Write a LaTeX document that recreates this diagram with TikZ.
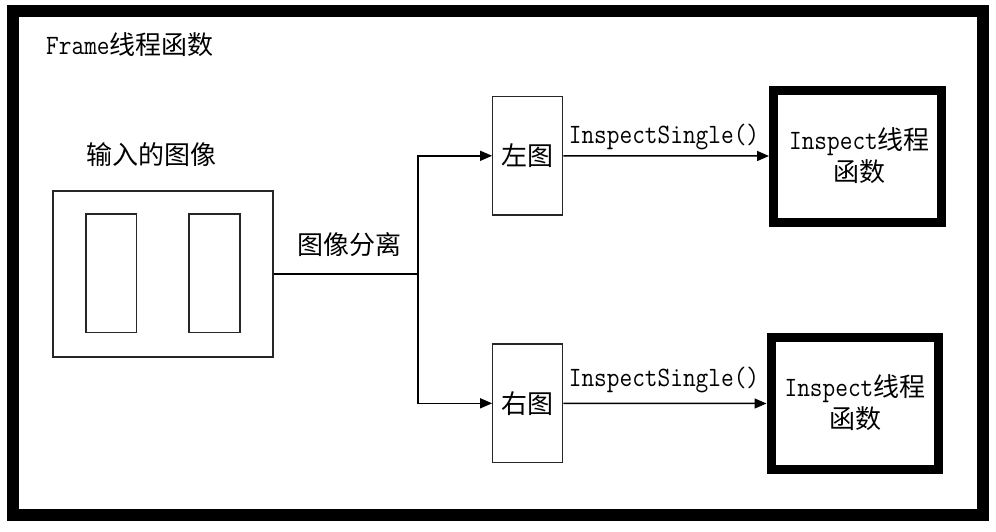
\documentclass[tikz,border=0pt]{standalone}
\usepackage{fontspec}
\newfontfamily\cjk{Noto Sans CJK SC}
\newfontfamily\lat[FakeStretch=0.88,Scale=1.077]{Latin Modern Mono}
\usetikzlibrary{arrows.meta}
\begin{document}
\begin{tikzpicture}[x=1pt,y=-1pt,
  thinbox/.style={draw=black!85, line width=1.2pt, inner sep=0pt},
  lbl/.style={inner sep=0pt, font=\fontsize{26}{32}\selectfont},
  arr/.style={-{Triangle[length=12pt,width=10pt]}, line width=1.5pt},
  conn/.style={line width=1.5pt},
  thickbox/.style={draw, line width=9pt, inner sep=0pt}]
\useasboundingbox (0,0) rectangle (996,531);
\fill[white] (0,0) rectangle (996,531);
\draw[line width=12pt] (12.5,10.5) rectangle (983,515);
\node[lbl, anchor=west] (title) at (46,45) {\lat Frame\cjk 线程函数};
% input image
\node[lbl] (inlbl) at (151,155) {\cjk 输入的图像};
\node[thinbox, minimum width=220pt, minimum height=166pt] (inbox) at (163,274) {};
\node[thinbox, minimum width=50.7pt, minimum height=118.7pt] (inl) at (111.3,273.3) {};
\node[thinbox, minimum width=51pt, minimum height=118.7pt] (inr) at (214.5,273.3) {};
\node[lbl] (seplbl) at (349,245) {\cjk 图像分离};
% split boxes
\node[thinbox, minimum width=70pt, minimum height=118.3pt, lbl] (lbox) at (527.7,155.8) {\cjk 左图};
\node[thinbox, minimum width=70pt, minimum height=118.7pt, lbl] (rbox) at (527.7,403.3) {\cjk 右图};
% inspect boxes
\node[thickbox, minimum width=168pt, minimum height=132pt] (ins1) at (857.5,156) {};
\node[lbl, align=center] (ins1t) at (859.5,156) {{\lat Inspect}{\cjk 线程}\\{\cjk 函数}};
\node[thickbox, minimum width=167.5pt, minimum height=132pt] (ins2) at (854.75,403.5) {};
\node[lbl, align=center] (ins2t) at (855,403) {{\lat Inspect}{\cjk 线程}\\{\cjk 函数}};
\node[lbl] (call1) at (664,137) {\lat InspectSingle()};
\node[lbl] (call2) at (664,380) {\lat InspectSingle()};
% connectors
\coordinate (j) at (418,274);
\draw[conn] (inbox.east) -- (j);
\draw[arr] (j) |- (lbox.west);
\draw[arr] (j) |- (rbox.west);
\draw[arr] (lbox.east) -- (ins1.west);
\draw[arr] (rbox.east) -- (ins2.west);
\end{tikzpicture}
\end{document}
